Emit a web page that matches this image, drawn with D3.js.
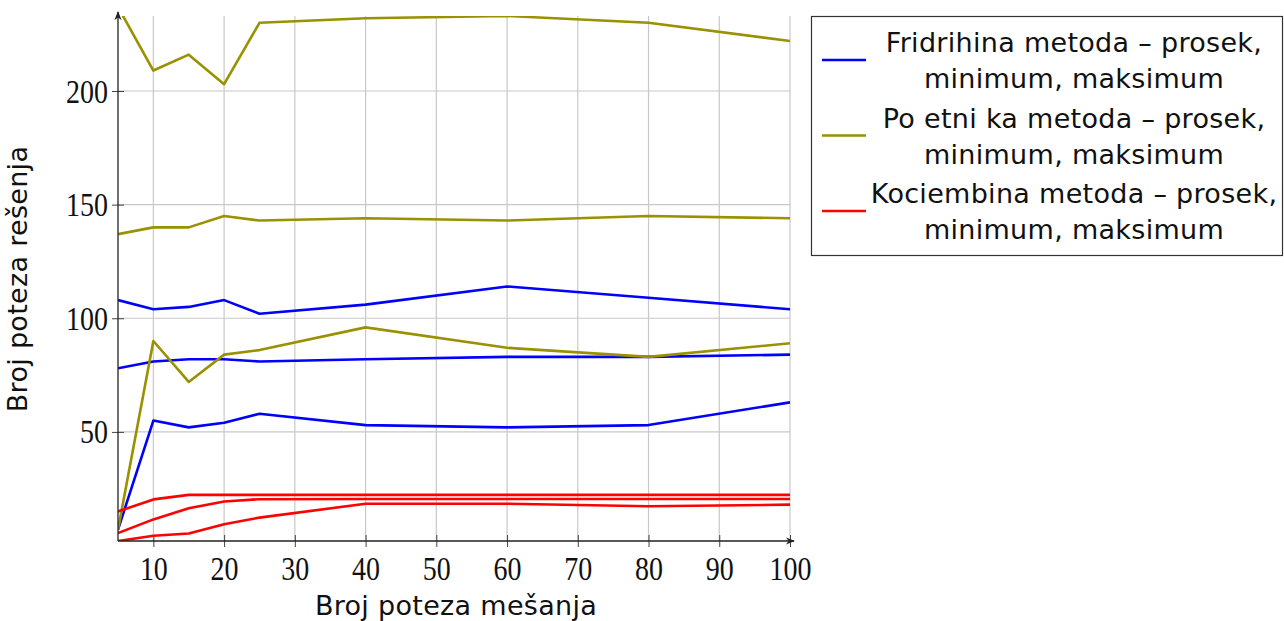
<!DOCTYPE html>
<html>
<head>
<meta charset="utf-8">
<script src="https://cdn.jsdelivr.net/npm/d3@7"></script>
<style>
  body { margin: 0; background: #fff; }
  .tick text { font-family: "Liberation Serif", serif; font-size: 28px; fill: #111; }
  .lbl { font-family: "DejaVu Sans", sans-serif; font-size: 27px; fill: #111; letter-spacing: 0.3px; }
</style>
</head>
<body>
<script>
var moves = [5, 10, 15, 20, 25, 40, 60, 80, 100];

var fridrihAvg = [78, 81, 82, 82, 81, 82, 83, 83, 84];
var fridrihMin = [7, 55, 52, 54, 58, 53, 52, 53, 63];
var fridrihMax = [108, 104, 105, 108, 102, 106, 114, 109, 104];

var beginnerAvg = [137, 140, 140, 145, 143, 144, 143, 145, 144];
var beginnerMin = [7, 90, 72, 84, 86, 96, 87, 83, 89];
var beginnerMax = [237, 209, 216, 203, 230, 232, 233, 230, 222];

var kociembaAvg = [5.5, 11.5, 16.4, 19.4, 20.4, 20.5, 20.5, 20.5, 20.5];
var kociembaMin = [2, 4.3, 5.3, 9.4, 12.3, 18.4, 18.4, 17.3, 18];
var kociembaMax = [15, 20.3, 22.3, 22.3, 22.3, 22.3, 22.3, 22.3, 22.3];

var xTicks = [10, 20, 30, 40, 50, 60, 70, 80, 90, 100];
var yTicks = [50, 100, 150, 200];

var legendLabels = [
  ["Fridrihina metoda \u2013 prosek,", "minimum, maksimum"],
  ["Po  etni  ka metoda \u2013 prosek,", "minimum, maksimum"],
  ["Kociembina metoda \u2013 prosek,", "minimum, maksimum"]
];
var colors = ["#0000ff", "#999100", "#ff0000"];

var groups = [
  [fridrihAvg, fridrihMin, fridrihMax],
  [beginnerAvg, beginnerMin, beginnerMax],
  [kociembaAvg, kociembaMin, kociembaMax]
];

var margin = {top: 16, right: 494, bottom: 80, left: 118},
    width = 1284 - margin.left - margin.right,
    height = 621 - margin.top - margin.bottom;

var x = d3.scaleLinear().domain([5, 100]).range([0, width]);
var y = d3.scaleLinear().domain([2, 233]).range([height, 0]);

var svg = d3.select("body").append("svg")
    .attr("width", 1284)
    .attr("height", 621)
  .append("g")
    .attr("transform", "translate(" + margin.left + "," + margin.top + ")");

var defs = svg.append("defs");
defs.append("clipPath").attr("id", "clip")
  .append("rect").attr("width", width).attr("height", height);

defs.append("marker")
    .attr("id", "arrow")
    .attr("viewBox", "0 0 10 10")
    .attr("refX", 9).attr("refY", 5)
    .attr("markerWidth", 9).attr("markerHeight", 9)
    .attr("markerUnits", "userSpaceOnUse")
    .attr("orient", "auto")
  .append("path")
    .attr("d", "M0,1 L10,5 L0,9 L3,5 Z")
    .attr("fill", "#222");

// grid
svg.append("g").selectAll("line").data(xTicks).enter().append("line")
    .attr("x1", function(d) { return x(d); }).attr("x2", function(d) { return x(d); })
    .attr("y1", 0).attr("y2", height)
    .attr("stroke", "#c8c8c8").attr("stroke-width", 1.2);
svg.append("g").selectAll("line").data(yTicks).enter().append("line")
    .attr("x1", 0).attr("x2", width)
    .attr("y1", function(d) { return y(d); }).attr("y2", function(d) { return y(d); })
    .attr("stroke", "#c8c8c8").attr("stroke-width", 1.2);

// axes
var xAxis = d3.axisBottom(x).tickValues(xTicks).tickSize(0).tickPadding(14);
var yAxis = d3.axisLeft(y).tickValues(yTicks).tickSize(0).tickPadding(10);

var gx = svg.append("g").attr("transform", "translate(0," + height + ")").call(xAxis);
gx.select(".domain").remove();
gx.selectAll(".tick").append("line").attr("y1", -6).attr("y2", 6).attr("stroke", "#444");
// computer modern digits are taller than Liberation Serif
gx.selectAll(".tick text")
    .attr("dy", null).attr("y", 0)
    .attr("transform", "translate(0,39) scale(1,1.2)");

var gy = svg.append("g").call(yAxis);
gy.select(".domain").remove();
gy.selectAll(".tick").append("line").attr("x1", -6).attr("x2", 6).attr("stroke", "#444");
gy.selectAll(".tick text")
    .attr("dy", null).attr("x", -10).attr("y", 0)
    .attr("transform", "translate(0,11) scale(1,1.2)");

// data lines
var line = d3.line()
    .x(function(d, i) { return x(moves[i]); })
    .y(function(d) { return y(d); });

var plot = svg.append("g").attr("clip-path", "url(#clip)");
groups.forEach(function(g, gi) {
  g.forEach(function(series) {
    plot.append("path")
        .datum(series)
        .attr("fill", "none")
        .attr("stroke", colors[gi])
        .attr("stroke-width", 2.6)
        .attr("stroke-linejoin", "round")
        .attr("d", line);
  });
});

svg.append("line")
    .attr("x1", 0).attr("x2", width + 4)
    .attr("y1", height).attr("y2", height)
    .attr("stroke", "#222").attr("stroke-width", 1.3)
    .attr("marker-end", "url(#arrow)");
svg.append("line")
    .attr("x1", 0).attr("x2", 0)
    .attr("y1", height).attr("y2", -4)
    .attr("stroke", "#222").attr("stroke-width", 1.3)
    .attr("marker-end", "url(#arrow)");

// axis titles
svg.append("text")
    .attr("class", "lbl")
    .attr("x", width / 2 + 2)
    .attr("y", height + 74)
    .style("text-anchor", "middle")
    .text("Broj poteza me\u0161anja");

svg.append("text")
    .attr("class", "lbl")
    .attr("transform", "rotate(-90)")
    .attr("x", -(279 - margin.top))
    .attr("y", -91)
    .style("text-anchor", "middle")
    .text("Broj poteza re\u0161enja");

// legend
var legend = d3.select("svg").append("g").attr("transform", "translate(811,16)");
legend.append("rect")
    .attr("x", 0.5).attr("y", 0.5)
    .attr("width", 471).attr("height", 239)
    .attr("fill", "#fff").attr("stroke", "#333").attr("stroke-width", 1.2);

legendLabels.forEach(function(lines, i) {
  var cy = 44 + i * 75.5;
  legend.append("line")
      .attr("x1", 11).attr("x2", 55)
      .attr("y1", cy).attr("y2", cy)
      .attr("stroke", colors[i]).attr("stroke-width", 2.6);
  lines.forEach(function(t, j) {
    legend.append("text")
        .attr("class", "lbl")
        .attr("x", 263)
        .attr("y", cy - 17 + j * 36 + 9)
        .style("text-anchor", "middle")
        .text(t);
  });
});
</script>
</body>
</html>
